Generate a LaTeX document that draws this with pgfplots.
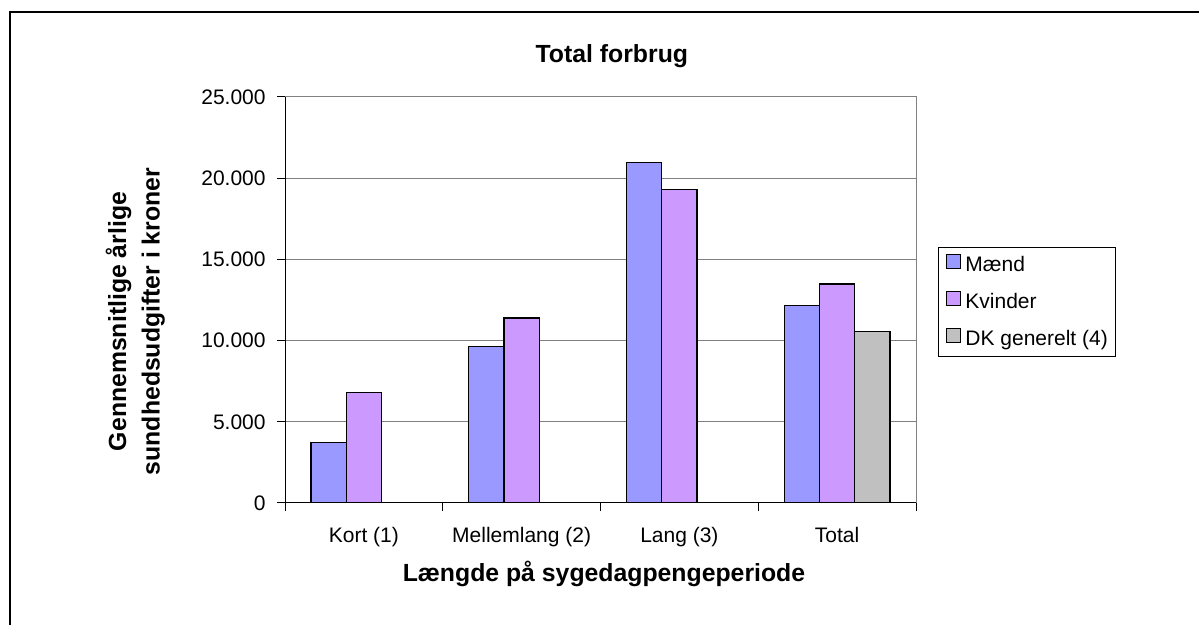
\documentclass[border=0pt]{standalone}
\usepackage{fontspec}
\setmainfont{Liberation Sans}
\usepackage{pgfplots}
\pgfplotsset{compat=1.18}
\definecolor{maend}{RGB}{153,153,255}
\definecolor{kvinder}{RGB}{204,153,255}
\definecolor{dkgen}{RGB}{192,192,192}
\definecolor{gridgray}{RGB}{128,128,128}
\newcommand{\normfont}{\fontsize{10.5}{12.6}\selectfont}
\newcommand{\boldfont}{\bfseries\fontsize{12.4}{16.7}\selectfont}
\begin{document}
\begin{tikzpicture}
\useasboundingbox (0pt,0pt) rectangle (599.5pt,312.5pt);
\fill[white] (0pt,0pt) rectangle (599.5pt,312.5pt);
\draw[line width=1pt] (5pt,-5pt) -- (5pt,306.5pt) -- (605pt,306.5pt);
\begin{axis}[
  at={(142.5pt,61pt)}, anchor=south west,
  scale only axis, width=315.5pt, height=203pt,
  xmin=-0.5, xmax=3.5, ymin=0, ymax=25000,
  ybar=0pt, bar width=17.6pt,
  xtick={0,1,2,3},
  xticklabels={Kort (1),Mellemlang (2),Lang (3),Total},
  major x tick style={draw=none},
  minor xtick={-0.5,0.5,1.5,2.5,3.5},
  minor x tick style={black, line width=0.5pt},
  minor tick length=4pt,
  ytick={0,5000,10000,15000,20000,25000},
  major y tick style={black, line width=0.5pt},
  major tick length=4pt,
  tick align=outside,
  tick pos=left,
  scaled y ticks=false,
  /pgf/number format/.cd, 1000 sep={.}, assume math mode=true, /pgfplots/.cd,
  ymajorgrids,
  major grid style={gridgray, line width=0.5pt},
  axis line style={gridgray, line width=0.5pt},
  ticklabel style={font=\normfont},
  yticklabel style={anchor=east, inner sep=0pt, xshift=-5.5pt},
  xticklabel style={anchor=base, inner sep=0pt, yshift=-16pt},
  title={Total forbrug},
  title style={at={(axis description cs:0.518,1)}, anchor=base, inner sep=0pt, yshift=11.3pt, font=\boldfont},
  xlabel={Længde på sygedagpengeperiode},
  xlabel style={at={(axis description cs:0.5055,0)}, anchor=base, inner sep=0pt, yshift=-39.5pt, font=\boldfont},
  ylabel={Gennemsnitlige årlige\\sundhedsudgifter i kroner},
  ylabel style={at={(axis description cs:-0.2373,0.447)}, anchor=center, align=center, inner sep=0pt, font=\boldfont},
  legend style={at={(axis description cs:1.0348,0.6305)}, anchor=north west,
    draw=black, line width=0.5pt, font=\normfont,
    inner xsep=4pt, inner ysep=3pt, row sep=7.4pt,
    nodes={inner sep=0pt, text height=7.5pt, text depth=2.5pt},
    /tikz/every odd column/.append style={column sep=2pt}},
  legend cell align=left,
]
\addplot[fill=maend, draw=black, line width=0.6pt,
  legend image code/.code={\draw[fill=maend, draw=black, line width=0.5pt] (0.5pt,-1pt) rectangle (7.5pt,6pt);}]
  coordinates {(0,3730) (1,9631) (2,20943) (3,12142)};
\addplot[fill=kvinder, draw=black, line width=0.6pt,
  legend image code/.code={\draw[fill=kvinder, draw=black, line width=0.5pt] (0.5pt,-1pt) rectangle (7.5pt,6pt);}]
  coordinates {(0,6824) (1,11393) (2,19283) (3,13481)};
\addplot[fill=dkgen, draw=black, line width=0.6pt,
  legend image code/.code={\draw[fill=dkgen, draw=black, line width=0.5pt] (0.5pt,-1pt) rectangle (7.5pt,6pt);}]
  coordinates {(3,10556)};
\legend{Mænd, Kvinder, DK generelt (4)}
\draw[black, line width=0.6pt] (rel axis cs:0,0) -- (rel axis cs:1,0);
\draw[black, line width=0.6pt] (rel axis cs:0,0) -- (rel axis cs:0,1);
\end{axis}
\end{tikzpicture}
\end{document}
